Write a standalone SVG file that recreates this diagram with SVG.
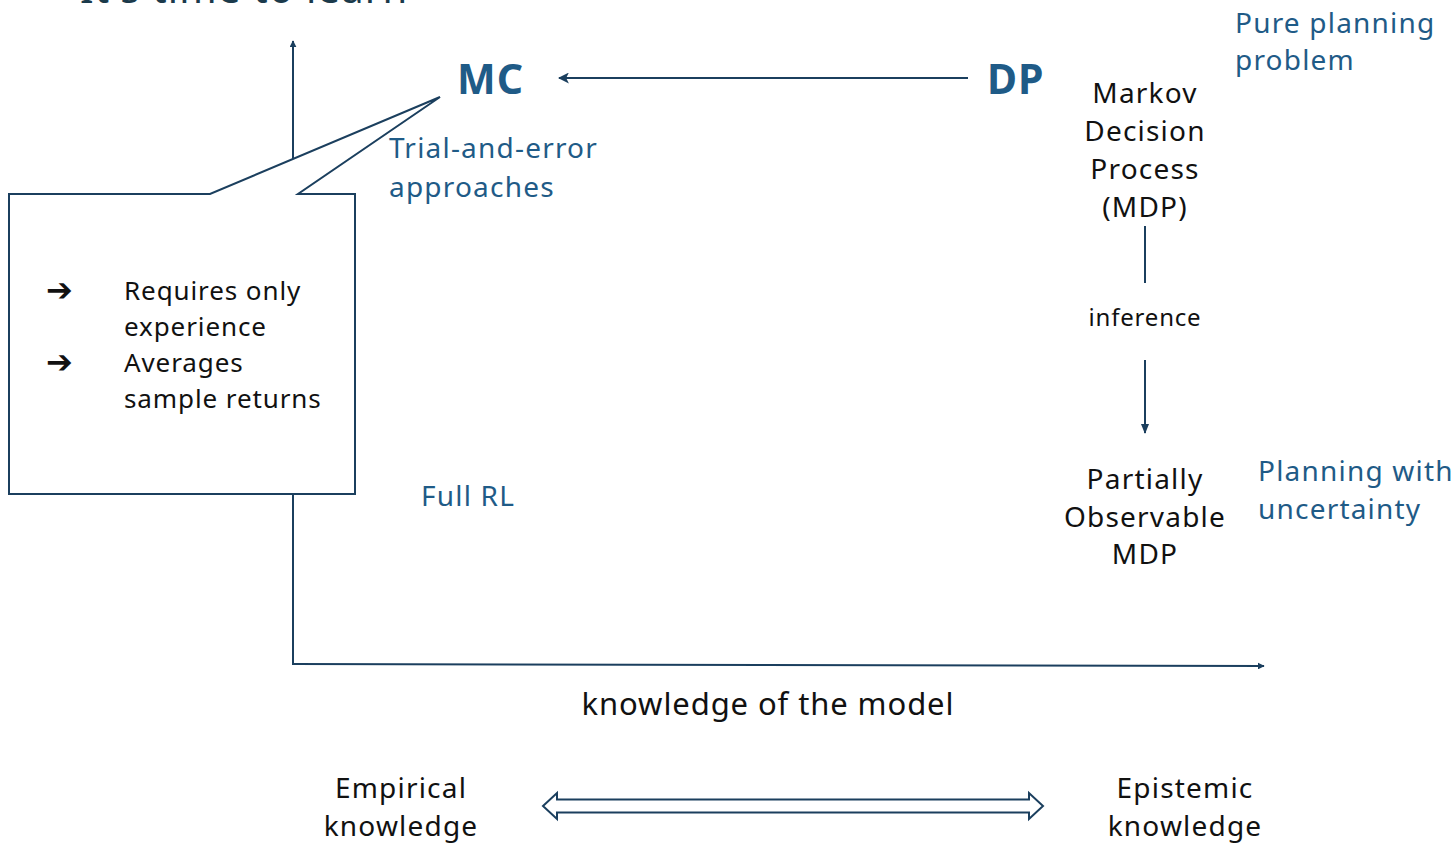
<svg xmlns="http://www.w3.org/2000/svg" width="1454" height="843" viewBox="0 0 1454 843">
  <style>
    text { font-family: "Noto Sans", "Open Sans", sans-serif; }
    .blue { fill: #1f5b87; }
    .dark { fill: #111111; }
    .head { font-size: 41px; font-weight: bold; fill: #1f5b87; letter-spacing: 1px; }
    .lbl { font-size: 28px; letter-spacing: 1.2px; }
    .box { font-size: 26px; fill: #111111; letter-spacing: 0.9px; }
    .bullet { font-family: "DejaVu Sans", sans-serif; font-size: 32px; font-weight: bold; fill: #111111; }
    .ln { stroke: #1b3f5e; stroke-width: 2; fill: none; }
  </style>
  <defs>
    <marker id="tri" viewBox="0 0 10 10" refX="9" refY="5" markerWidth="7" markerHeight="7" orient="auto" markerUnits="userSpaceOnUse">
      <path d="M0,0 L10,5 L0,10 Z" fill="#1b3f5e"/>
    </marker>
    <marker id="triMid" viewBox="0 0 10 10" refX="9" refY="5" markerWidth="10" markerHeight="10" orient="auto" markerUnits="userSpaceOnUse">
      <path d="M0,1 L10,5 L0,9 Z" fill="#1b3f5e"/>
    </marker>
    <marker id="triBig" viewBox="0 0 10 10" refX="9" refY="5" markerWidth="11" markerHeight="11" orient="auto" markerUnits="userSpaceOnUse">
      <path d="M0,0 L10,5 L0,10 L2.5,5 Z" fill="#1b3f5e"/>
    </marker>
  </defs>

  <rect width="1454" height="843" fill="#ffffff"/>

  <!-- slide title, mostly above the frame -->
  <text x="80" y="3" font-size="40" fill="#1b3a4b" letter-spacing="1.2">It's time to learn</text>

  <!-- axes and connectors -->
  <g id="connectors">
    <line class="ln" x1="293" y1="665" x2="293" y2="41" marker-end="url(#tri)"/>
    <line class="ln" x1="293" y1="664" x2="1264" y2="666" marker-end="url(#tri)"/>
    <line class="ln" x1="968" y1="78" x2="559" y2="78" marker-end="url(#triBig)" stroke="#1f5b87"/>
    <line class="ln" x1="1145" y1="226" x2="1145" y2="283"/>
    <line class="ln" x1="1145" y1="360" x2="1145" y2="433" marker-end="url(#triMid)"/>
    <!-- outlined double-headed arrow -->
    <path d="M543,806 L557,793 L557,799.5 L1029,799.5 L1029,793 L1043,806 L1029,819 L1029,812.5 L557,812.5 L557,819 Z" fill="#ffffff" stroke="#1b3f5e" stroke-width="2" stroke-linejoin="miter"/>
  </g>

  <!-- callout box attached to MC -->
  <g id="callout">
    <path d="M9,194 L210,194 L440,97 L298,194 L355,194 L355,494 L9,494 Z" fill="#ffffff" stroke="#1b3f5e" stroke-width="2"/>
    <text x="46" y="301" class="bullet">➔</text>
    <text x="46" y="373" class="bullet">➔</text>
    <text x="124" y="300" class="box">Requires only</text>
    <text x="124" y="336" class="box">experience</text>
    <text x="124" y="372" class="box">Averages</text>
    <text x="124" y="408" class="box">sample returns</text>
  </g>

  <g id="mc">
    <text x="457" y="94" class="head">MC</text>
    <text x="389" y="158" class="lbl blue">Trial-and-error</text>
    <text x="389" y="197" class="lbl blue">approaches</text>
  </g>

  <g id="dp">
    <text x="987" y="94" class="head">DP</text>
  </g>

  <g id="pure-planning">
    <text x="1235" y="33" class="lbl blue">Pure planning</text>
    <text x="1235" y="70" class="lbl blue">problem</text>
  </g>

  <g id="mdp" text-anchor="middle">
    <text x="1145" y="103" class="lbl dark">Markov</text>
    <text x="1145" y="141" class="lbl dark">Decision</text>
    <text x="1145" y="179" class="lbl dark">Process</text>
    <text x="1145" y="217" class="lbl dark">(MDP)</text>
  </g>

  <g id="inference">
    <text x="1145" y="326" text-anchor="middle" font-size="24" letter-spacing="0.8" class="dark">inference</text>
  </g>

  <g id="pomdp" text-anchor="middle">
    <text x="1145" y="489" class="lbl dark">Partially</text>
    <text x="1145" y="527" class="lbl dark">Observable</text>
    <text x="1145" y="564" class="lbl dark">MDP</text>
  </g>

  <g id="uncertainty">
    <text x="1258" y="481" class="lbl blue">Planning with</text>
    <text x="1258" y="519" class="lbl blue">uncertainty</text>
  </g>

  <g id="full-rl">
    <text x="421" y="506" class="lbl blue">Full RL</text>
  </g>

  <g id="axis-label">
    <text x="768" y="715" text-anchor="middle" font-size="31" letter-spacing="0.9" class="dark">knowledge of the model</text>
  </g>

  <g id="empirical" text-anchor="middle">
    <text x="401" y="798" class="lbl dark">Empirical</text>
    <text x="401" y="836" class="lbl dark">knowledge</text>
  </g>

  <g id="epistemic" text-anchor="middle">
    <text x="1185" y="798" class="lbl dark">Epistemic</text>
    <text x="1185" y="836" class="lbl dark">knowledge</text>
  </g>
</svg>
